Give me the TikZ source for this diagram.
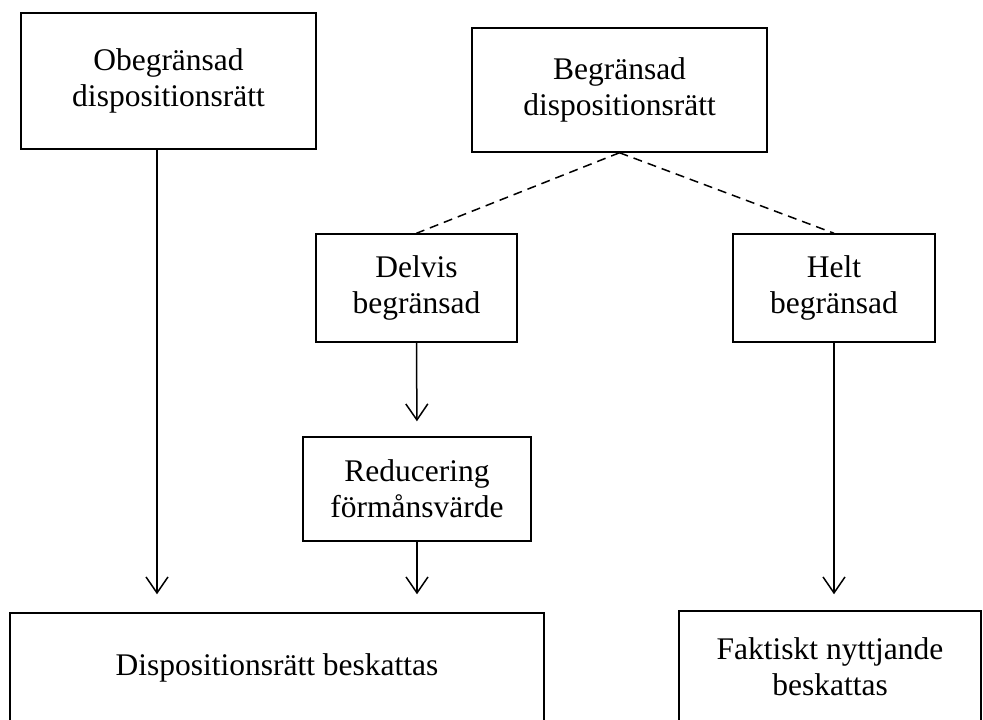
\documentclass[tikz,border=0pt]{standalone}
\usepackage{fontspec}
\setmainfont{Liberation Serif}
\usetikzlibrary{arrows.meta}
\begin{document}
\begin{tikzpicture}[x=1pt,y=-1pt,
  box/.style={draw,line width=1.5pt,inner sep=0pt,align=center,
    font=\fontsize{31.5}{36}\selectfont},
  arr/.style={line width=1.5pt,-{Straight Barb[length=16pt,width=22pt,line width=1.5pt]}},
  dsh/.style={line width=1.5pt,dash pattern=on 9pt off 6pt}]
\useasboundingbox (0,0) rectangle (983,720);
\node[box,minimum width=295pt,minimum height=136pt] (b1) at (168.5,81) {Obegränsad\\dispositionsrätt};
\node[box,minimum width=295pt,minimum height=124pt] (b2) at (619.5,90) {Begränsad\\dispositionsrätt};
\node[box,minimum width=201pt,minimum height=108pt] (b3) at (416.5,288) {Delvis\\begränsad};
\node[box,minimum width=202pt,minimum height=108pt] (b4) at (834,288) {Helt\\begränsad};
\node[box,minimum width=228pt,minimum height=104pt] (b5) at (417,489) {Reducering\\förmånsvärde};
\node[box,minimum width=534pt,minimum height=109pt] (b6) at (277,667.5) {Dispositionsrätt beskattas};
\node[box,minimum width=302pt,minimum height=111pt] (b7) at (830,666.5) {Faktiskt nyttjande\\beskattas};
\coordinate (c1) at (157,0);
\draw[arr,shorten >=18pt] (b1.south -| c1) -- (b6.north -| c1);
\draw[arr,shorten >=15pt] (b3.south) -- (b5.north);
\draw[arr,shorten >=18pt] (b5.south) -- (b6.north -| b5.south);
\draw[arr,shorten >=16pt] (b4.south) -- (b7.north -| b4.south);
\draw[dsh] (b2.south) -- (b3.north);
\draw[dsh] (b2.south) -- (b4.north);
\end{tikzpicture}
\end{document}
